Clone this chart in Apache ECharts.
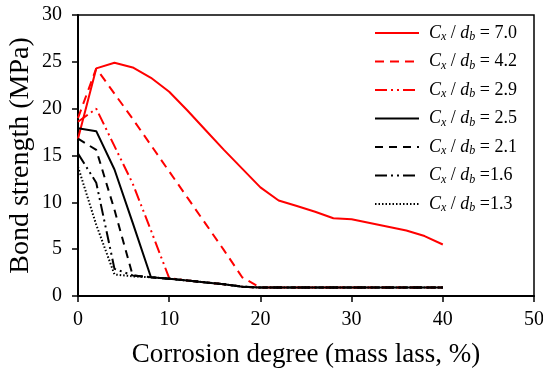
<!DOCTYPE html>
<html><head><meta charset="utf-8">
<script src="https://cdn.jsdelivr.net/npm/echarts@6/dist/echarts.min.js"></script>
<style>html,body{margin:0;padding:0;background:#fff}#c{width:543px;height:370px}</style>
</head><body><div id="c"></div>
<script>
// Corrosion degree (x) shared by all series
const xs = [0,2,4,6,8,10,12,14,16,18,20,22,24,26,28,30,32,34,36,38,40];
// Cx/db ratio labels (legend)
const ratioLabels = ['= 7.0','= 4.2','= 2.9','= 2.5','= 2.1','=1.6','=1.3'];
// Bond strength values (MPa)
const y70 = [16.8,24.3,24.9,24.4,23.3,21.8,19.8,17.7,15.6,13.6,11.6,10.2,9.6,9.0,8.3,8.2,7.8,7.4,7.0,6.4,5.5];
const y42 = [19.0,24.3,21.6,18.9,16.1,13.3,10.5,7.7,4.9,2.0,0.9,0.9,0.9,0.9,0.9,0.9,0.9,0.9,0.9,0.9,0.9];
const y29 = [18.6,20.0,16.0,12.0,7.0,1.9,1.65,1.45,1.25,1.0,0.9,0.9,0.9,0.9,0.9,0.9,0.9,0.9,0.9,0.9,0.9];
const y25 = [17.9,17.6,13.5,7.8,2.0,1.85,1.65,1.45,1.25,1.0,0.9,0.9,0.9,0.9,0.9,0.9,0.9,0.9,0.9,0.9,0.9];
const y21 = [16.8,15.6,9.2,2.2,2.0,1.85,1.65,1.45,1.25,1.0,0.9,0.9,0.9,0.9,0.9,0.9,0.9,0.9,0.9,0.9,0.9];
const y16 = [15.2,12.1,2.9,2.2,2.0,1.85,1.65,1.45,1.25,1.0,0.9,0.9,0.9,0.9,0.9,0.9,0.9,0.9,0.9,0.9,0.9];
const y13 = [13.8,7.6,2.3,2.1,2.0,1.85,1.65,1.45,1.25,1.0,0.9,0.9,0.9,0.9,0.9,0.9,0.9,0.9,0.9,0.9,0.9];
const xTicks = [0,10,20,30,40,50];
const yTicks = [0,5,10,15,20,25,30];

const FONT = 'Liberation Serif';
const seriesY = [y70,y42,y29,y25,y21,y16,y13];
const styles = [
  {color:'#ff0000', type:'solid'},
  {color:'#ff0000', type:[9,6]},
  {color:'#ff0000', type:[12,4,2,4,2,4]},
  {color:'#000000', type:'solid'},
  {color:'#000000', type:[8,6]},
  {color:'#000000', type:[12,4,2,4,2,4]},
  {color:'#000000', type:[1.5,2]}
];
const names = ratioLabels.map((r,i)=>'s'+i);

const chart = echarts.init(document.getElementById('c'), null, {renderer:'canvas'});
chart.setOption({
  animation:false,
  backgroundColor:'#fff',
  grid:{left:78, right:9, top:15, bottom:74, containLabel:false, outerBoundsMode:'none',
        show:true, borderColor:'#000', borderWidth:1.5, backgroundColor:'transparent'},
  legend:{
    orient:'vertical', left:374, top:24, padding:0, itemWidth:44, itemHeight:14, itemGap:9.5,
    data:names,
    itemStyle:{opacity:0},
    formatter:function(n){
      const i = names.indexOf(n);
      return '{g|}{i|C}{s|x}{n| / }{i|d}{s|b}{n| ' + ratioLabels[i] + '}';
    },
    textStyle:{
      color:'#000', fontFamily:FONT, fontSize:18,
      rich:{
        g:{width:5},
        i:{fontFamily:FONT, fontStyle:'italic', fontSize:18, lineHeight:20, color:'#000'},
        s:{fontFamily:FONT, fontStyle:'italic', fontSize:12, lineHeight:8, verticalAlign:'bottom', color:'#000'},
        n:{fontFamily:FONT, fontSize:18, lineHeight:20, color:'#000'}
      }
    }
  },
  xAxis:{
    type:'value', min:xTicks[0], max:xTicks[xTicks.length-1], interval:10,
    axisLine:{show:true, onZero:false, lineStyle:{color:'#000', width:2}},
    axisTick:{show:true, inside:false, length:6, lineStyle:{color:'#000', width:1.5}},
    axisLabel:{color:'#000', fontFamily:FONT, fontSize:20, margin:14},
    splitLine:{show:false},
    name:'Corrosion degree (mass lass, %)', nameLocation:'middle', nameGap:45, nameMoveOverlap:false,
    nameTextStyle:{color:'#000', fontFamily:FONT, fontSize:27}
  },
  yAxis:{
    type:'value', min:yTicks[0], max:yTicks[yTicks.length-1], interval:5,
    axisLine:{show:true, onZero:false, lineStyle:{color:'#000', width:2}},
    axisTick:{show:true, inside:false, length:6, lineStyle:{color:'#000', width:1.5}},
    axisLabel:{color:'#000', fontFamily:FONT, fontSize:20, margin:16},
    splitLine:{show:false},
    name:'Bond strength (MPa)', nameLocation:'middle', nameGap:43, nameMoveOverlap:false,
    nameTextStyle:{color:'#000', fontFamily:FONT, fontSize:28}
  },
  series: seriesY.map((ys,i)=>({
    name:names[i], type:'line', symbol:'none', showSymbol:false, smooth:false,
    data: xs.map((x,j)=>[x, ys[j]]),
    lineStyle:{color:styles[i].color, width:2, type:styles[i].type},
    itemStyle:{color:styles[i].color},
    z: 2+i
  }))
});
</script>
</body></html>
